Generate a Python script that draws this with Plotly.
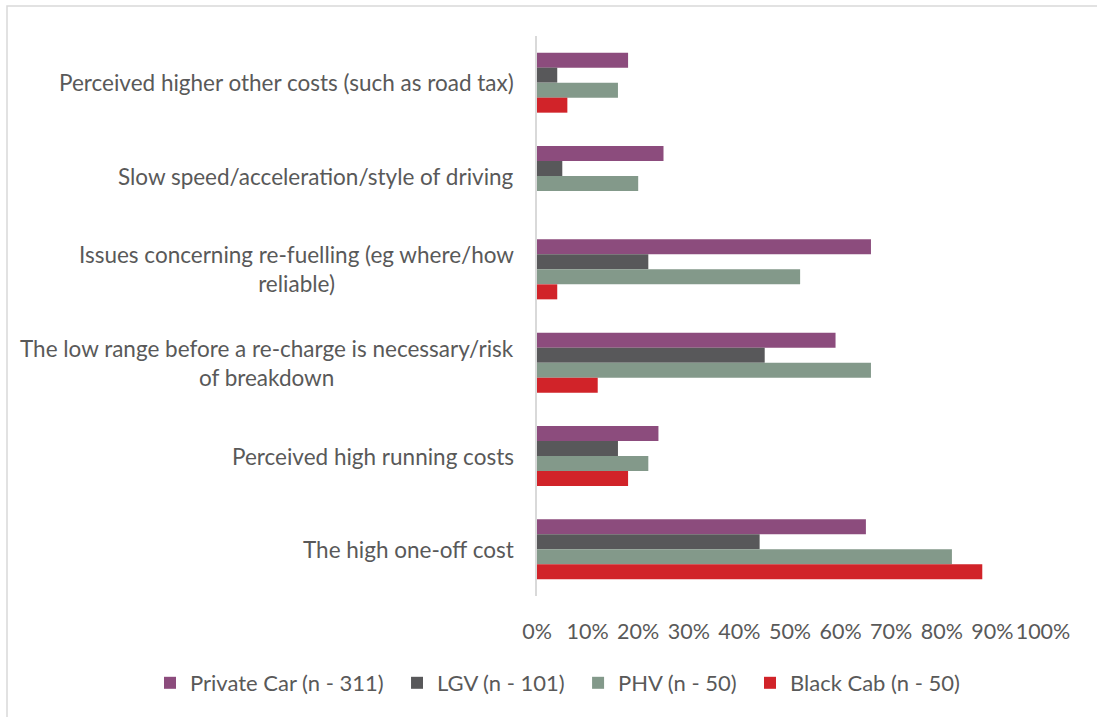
import plotly.graph_objects as go

categories = [
    "Perceived higher other costs (such as road tax)",
    "Slow speed/acceleration/style of driving",
    "Issues concerning re-fuelling (eg where/how<br>reliable)",
    "The low range before a re-charge is necessary/risk<br>of breakdown",
    "Perceived high running costs",
    "The high one-off cost",
]
series_names = ["Private Car (n - 311)", "LGV (n - 101)", "PHV (n - 50)", "Black Cab (n - 50)"]
private_car = [18, 25, 66, 59, 24, 65]
lgv = [4, 5, 22, 45, 16, 44]
phv = [16, 20, 52, 66, 22, 82]
black_cab = [6, 0, 4, 12, 18, 88]
x_tick_vals = [0, 10, 20, 30, 40, 50, 60, 70, 80, 90, 100]
x_tick_labels = ["0%", "10%", "20%", "30%", "40%", "50%", "60%", "70%", "80%", "90%", "100%"]
colors = ["#8C4C7D", "#58585A", "#83998A", "#D12329"]

FONT = "Lato"
TXT = "#595959"
PAD = "\u00a0\u2009"

fig = go.Figure()
for name, vals, col in zip(series_names, [private_car, lgv, phv, black_cab], colors):
    fig.add_trace(go.Bar(
        y=list(range(len(categories))), x=vals, name=name + PAD, orientation="h",
        marker=dict(color=col, line=dict(width=0)),
    ))

annotations = []
for i, c in enumerate(categories):
    annotations.append(dict(
        x=0, xref="x", y=i, yref="y", text=c, showarrow=False,
        xanchor="right", yanchor="middle", align="center", xshift=-21,
        font=dict(family=FONT, size=22.5, color=TXT),
    ))

L, T, W, H = 537, 36, 506, 560
fig.update_layout(
    width=1097, height=717,
    margin=dict(l=L, r=1097 - L - W, t=T, b=717 - T - H, autoexpand=False),
    paper_bgcolor="white", plot_bgcolor="white",
    barmode="group", bargap=0.357, bargroupgap=0,
    font=dict(family=FONT, size=22, color=TXT),
    xaxis=dict(range=[0, 100], tickvals=x_tick_vals, ticktext=x_tick_labels, showgrid=False,
               zeroline=False, showline=False, ticks="", ticklabelstandoff=20, tickangle=0,
               tickfont=dict(family=FONT, size=21.5, color=TXT), fixedrange=True),
    yaxis=dict(range=[len(categories) - 0.5, -0.5], showticklabels=False, showgrid=False,
               zeroline=False, showline=True, linecolor="#D9D9D9", linewidth=1.5, ticks="",
               fixedrange=True),
    legend=dict(orientation="h", xref="paper", yref="paper", x=(150 - L) / W, y=(T + H - 683) / H,
                xanchor="left", yanchor="middle", font=dict(family=FONT, size=22, color=TXT),
                traceorder="normal", bgcolor="rgba(0,0,0,0)"),
    annotations=annotations,
    shapes=[dict(type="rect", xref="paper", yref="paper",
                 x0=(7 - L) / W, x1=(1110 - L) / W, y0=(T + H - 730) / H, y1=(T + H - 6) / H,
                 line=dict(color="#D9D9D9", width=1.5), fillcolor="rgba(0,0,0,0)", layer="below")],
)

fig.write_html("out.html", config={"displayModeBar": False},
               post_script="document.body.style.margin='0';document.body.style.overflow='hidden';")
